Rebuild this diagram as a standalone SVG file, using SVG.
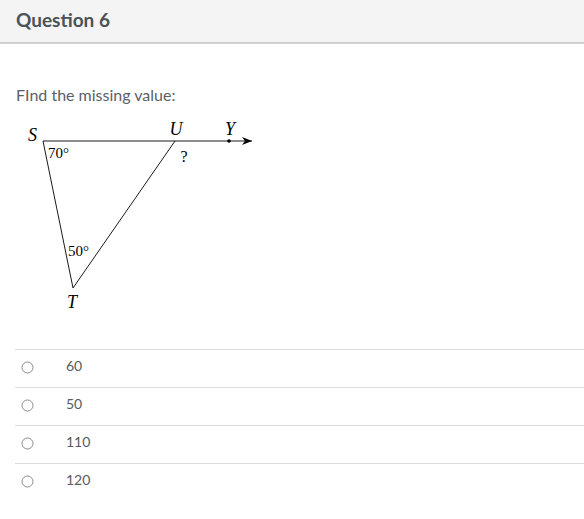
<svg xmlns="http://www.w3.org/2000/svg" width="584" height="519" viewBox="0 0 584 519">
<style>
.ui{font-family:Lato,"Liberation Sans",sans-serif;}
.math{font-family:"Liberation Serif","DejaVu Serif",serif;fill:#000;}
.lbl{font-size:18px;font-style:italic;}
.ang{font-size:15px;}
.sep{stroke:#dcdcdc;stroke-width:1;}
.radio{fill:#fff;stroke:#8a8a8a;stroke-width:1;}
.opt{font-family:Lato,"Liberation Sans",sans-serif;font-size:14px;fill:#555b60;}
.edge{stroke:#000;stroke-width:0.9;fill:none;}
</style>
<defs>
<marker id="arrow" viewBox="0 0 10 8" refX="10" refY="4" markerWidth="10" markerHeight="8" markerUnits="userSpaceOnUse" orient="auto">
<path d="M0,0 L10,4 L0,8 L3,4 z" fill="#000"/>
</marker>
</defs>
<rect x="0" y="0" width="584" height="519" fill="#fff"/>
<g id="header">
<rect x="0" y="0" width="584" height="43" fill="#f4f4f4"/>
<line x1="0" y1="43" x2="584" y2="43" stroke="#a8a8a8" stroke-width="1"/>
<text x="16" y="27" class="ui" font-size="19" font-weight="bold" fill="#4a5359">Question 6</text>
</g>
<text x="16" y="101" class="ui" font-size="16" fill="#5a6065">FInd the missing value:</text>
<g id="connectors">
<line class="edge" x1="43" y1="141" x2="252" y2="141" marker-end="url(#arrow)"/>
<line class="edge" x1="43" y1="141" x2="73" y2="288"/>
<line class="edge" x1="175" y1="141" x2="73" y2="288"/>
</g>
<g id="S"><text x="28" y="141" class="math lbl">S</text></g>
<g id="U"><text x="176" y="135" class="math lbl" text-anchor="middle">U</text></g>
<g id="Y"><circle cx="229" cy="141" r="1.8" fill="#000"/><text x="230" y="135" class="math lbl" text-anchor="middle">Y</text></g>
<g id="T"><text x="72" y="308" class="math lbl" text-anchor="middle">T</text></g>
<text x="48" y="158" class="math ang">70°</text>
<text x="184" y="162" class="math" font-size="16" text-anchor="middle">?</text>
<text x="68" y="256" class="math ang">50°</text>
<g id="options">
<line class="sep" x1="15" y1="349.5" x2="584" y2="349.5"/>
<line class="sep" x1="15" y1="387.5" x2="584" y2="387.5"/>
<line class="sep" x1="15" y1="425.5" x2="584" y2="425.5"/>
<line class="sep" x1="15" y1="463.5" x2="584" y2="463.5"/>
<circle class="radio" cx="27.5" cy="367.5" r="5.5"/>
<circle class="radio" cx="27.5" cy="405.5" r="5.5"/>
<circle class="radio" cx="27.5" cy="443.5" r="5.5"/>
<circle class="radio" cx="27.5" cy="481.5" r="5.5"/>
<text x="66" y="371" class="opt">60</text>
<text x="66" y="409" class="opt">50</text>
<text x="66" y="447" class="opt">110</text>
<text x="66" y="485" class="opt">120</text>
</g>
</svg>
